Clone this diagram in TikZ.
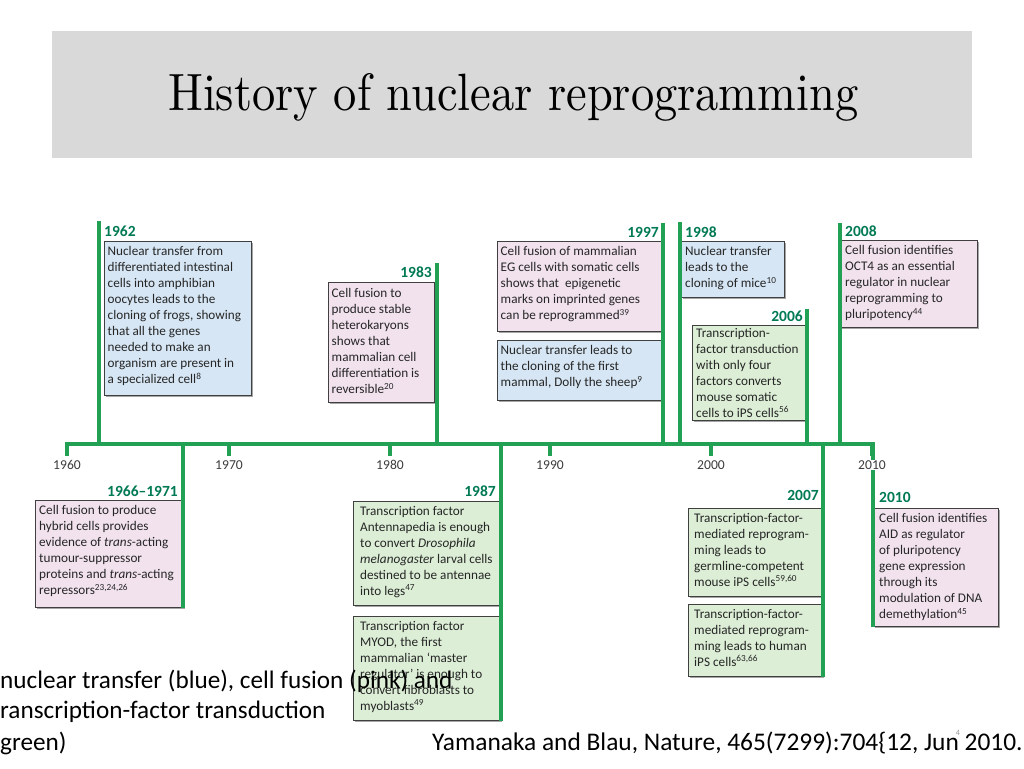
\documentclass[tikz,border=0pt]{standalone}
\usepackage{fontspec}
\usepackage{graphicx}
\newfontfamily\carl{Carlito}
\usetikzlibrary{shadows}
\definecolor{tlgreen}{RGB}{34,160,84}
\definecolor{yrgreen}{RGB}{0,122,84}
\definecolor{ntblue}{RGB}{214,230,244}
\definecolor{cfpink}{RGB}{241,226,238}
\definecolor{tfgreen}{RGB}{220,238,214}
\definecolor{titlegray}{RGB}{217,217,217}
\definecolor{decgray}{RGB}{60,60,60}
\tikzset{
  evbox/.style={draw=black!75, line width=0.8pt, fill=#1, anchor=north west, inner sep=0pt,
    drop shadow={shadow xshift=1.5pt, shadow yshift=-1.5pt, fill=black, opacity=0.35}},
  evtext/.style={anchor=north west, inner sep=0pt, align=left, font=\carl\fontsize{13.2}{16}\selectfont, text=black!85},
  yrlabel/.style={inner sep=0pt, font=\carl\bfseries\fontsize{15.5}{18}\selectfont, text=yrgreen},
  declabel/.style={inner sep=1pt, fill=white, font=\carl\fontsize{13.6}{16}\selectfont, text=decgray},
  stem/.style={draw=tlgreen, line width=3.6pt},
  legend/.style={inner sep=0pt, anchor=base west, font=\carl\fontsize{25.2}{28}\selectfont, text=black},
}
\begin{document}
\begin{tikzpicture}[x=1pt,y=-1pt]
\useasboundingbox (0,0) rectangle (1024,768);
\fill[white] (0,0) rectangle (1024,768);
% title
\node[fill=titlegray, anchor=north west, minimum width=920pt, minimum height=127pt, inner sep=0pt] (tbox) at (52,31) {};
\node[anchor=base west, inner sep=0pt] (title) at (168,110) {\resizebox{690pt}{37pt}{History of nuclear reprogramming}};

% axis
\coordinate (ax0) at (65,444);
\coordinate (ax1) at (875,444);
\draw[stem] (ax0) -- (ax1);
\foreach \yr/\xx in {1960/67,1970/229,1980/390,1990/550,2000/711,2010/872}{
  \coordinate (tk\yr) at (\xx,444);
  \coordinate (tke\yr) at (\xx,456);
  \draw[stem] (tk\yr) -- (tke\yr);
}

% boxes above
\node[evbox=ntblue, minimum width=147pt, minimum height=154pt] (b1962) at (104,241) {};
\node[evtext] (t1962) at (107.5,246) {Nuclear transfer from\\differentiated intestinal\\cells into amphibian\\oocytes leads to the\\cloning of frogs, showing\\that all the genes\\needed to make an\\organism are present in\\a specialized cell\textsuperscript{8}};

\node[evbox=cfpink, minimum width=106pt, minimum height=120pt] (b1983) at (328,282) {};
\node[evtext] (t1983) at (331.5,288) {Cell fusion to\\produce stable\\heterokaryons\\shows that\\mammalian cell\\differentiation is\\reversible\textsuperscript{20}};

\node[evbox=cfpink, minimum width=165pt, minimum height=90pt] (b1997a) at (497,241) {};
\node[evtext] (t1997a) at (500.5,246) {Cell fusion of mammalian\\EG cells with somatic cells\\shows that\ \ epigenetic\\marks on imprinted genes\\can be reprogrammed\textsuperscript{39}};

\node[evbox=ntblue, minimum width=165pt, minimum height=60pt] (b1997b) at (497,340) {};
\node[evtext] (t1997b) at (500.5,345) {Nuclear transfer leads to\\the cloning of the first\\mammal, Dolly the sheep\textsuperscript{9}};

\node[evbox=ntblue, minimum width=103pt, minimum height=56pt] (b1998) at (681,241) {};
\node[evtext] (t1998) at (685,246) {Nuclear transfer\\leads to the\\cloning of mice\textsuperscript{10}};

\node[evbox=tfgreen, minimum width=114pt, minimum height=95pt] (b2006) at (692,325) {};
\node[evtext] (t2006) at (696,328) {Transcription-\\factor transduction\\with only four\\factors converts\\mouse somatic\\cells to iPS cells\textsuperscript{56}};

\node[evbox=cfpink, minimum width=137pt, minimum height=87pt] (b2008) at (840,240) {};
\node[evtext] (t2008) at (845,245) {Cell fusion identifies\\OCT4 as an essential\\regulator in nuclear\\reprogramming to\\pluripotency\textsuperscript{44}};

% boxes below
\node[evbox=cfpink, minimum width=148pt, minimum height=107pt] (b1966) at (35,500) {};
\node[evtext] (t1966) at (39,505) {Cell fusion to produce\\hybrid cells provides\\evidence of \textit{trans}-acting\\tumour-suppressor\\proteins and \textit{trans}-acting\\repressors\textsuperscript{23,24,26}};

\node[evbox=tfgreen, minimum width=147pt, minimum height=104pt] (b1987a) at (353,501) {};
\node[evtext] (t1987a) at (360,506) {Transcription factor\\Antennapedia is enough\\to convert \textit{Drosophila}\\\textit{melanogaster} larval cells\\destined to be antennae\\into legs\textsuperscript{47}};

\node[evbox=tfgreen, minimum width=147pt, minimum height=104pt] (b1987b) at (353,616) {};
\node[evtext] (t1987b) at (360,621) {Transcription factor\\MYOD, the first\\mammalian ‘master\\regulator’ is enough to\\convert fibroblasts to\\myoblasts\textsuperscript{49}};

\node[evbox=tfgreen, minimum width=134pt, minimum height=88pt] (b2007a) at (688,508) {};
\node[evtext] (t2007a) at (694,513) {Transcription-factor-\\mediated reprogram-\\ming leads to\\germline-competent\\mouse iPS cells\textsuperscript{59,60}};

\node[evbox=tfgreen, minimum width=134pt, minimum height=72pt] (b2007b) at (688,604) {};
\node[evtext] (t2007b) at (694,609) {Transcription-factor-\\mediated reprogram-\\ming leads to human\\iPS cells\textsuperscript{63,66}};

\node[evbox=cfpink, minimum width=125pt, minimum height=118pt] (b2010) at (873,508) {};
\node[evtext] (t2010) at (879,513) {Cell fusion identifies\\AID as regulator\\of pluripotency\\gene expression\\through its\\modulation of DNA\\demethylation\textsuperscript{45}};

% stems
\foreach \nm/\xx/\ya/\yb in {1962/99/221/444, 1983/437/263/444, 1997/663/223/444, 1998/680/222/444, 2006/807/309/444, 2008/840/223/444, 1966/183/444/608, 1987/501/444/721, 2007/823/444/677, 2010/873/444/627}{
  \coordinate (sa\nm) at (\xx,\ya);
  \coordinate (sb\nm) at (\xx,\yb);
  \draw[stem] (sa\nm) -- (sb\nm);
}

% decade labels
\node[declabel] (d1960) at (67,465) {1960};
\node[declabel] (d1970) at (229,465) {1970};
\node[declabel] (d1980) at (390,465) {1980};
\node[declabel] (d1990) at (550,465) {1990};
\node[declabel] (d2000) at (711,465) {2000};
\node[declabel] (d2010) at (872,465) {2010};

% year labels
\node[yrlabel, anchor=west] (y1962) at (104,231) {1962};
\node[yrlabel, anchor=east] (y1983) at (432,272) {1983};
\node[yrlabel, anchor=east] (y1997) at (659,232) {1997};
\node[yrlabel, anchor=west] (y1998) at (685,232) {1998};
\node[yrlabel, anchor=east] (y2006) at (803,316) {2006};
\node[yrlabel, anchor=west] (y2008) at (845,231) {2008};
\node[yrlabel, anchor=east] (y1966) at (178,491) {1966–1971};
\node[yrlabel, anchor=east] (y1987) at (496,491) {1987};
\node[yrlabel, anchor=east] (y2007) at (819,495) {2007};
\node[yrlabel, anchor=west] (y2010) at (879,497) {2010};

% legend and citation
\node[legend] (leg1) at (0,688) {nuclear transfer (blue), cell fusion (pink) and};
\node[legend] (leg2) at (0,718) {ranscription-factor transduction};
\node[legend] (leg3) at (0,750) {green)};
\node[legend, font=\carl\fontsize{25.4}{28}\selectfont] (cite) at (432,750) {Yamanaka and Blau, Nature, 465(7299):704\{12, Jun 2010.};
\node[inner sep=0pt, font=\carl\fontsize{8}{9}\selectfont, text=black!40] (pnum) at (958,733) {4};
\end{tikzpicture}
\end{document}
